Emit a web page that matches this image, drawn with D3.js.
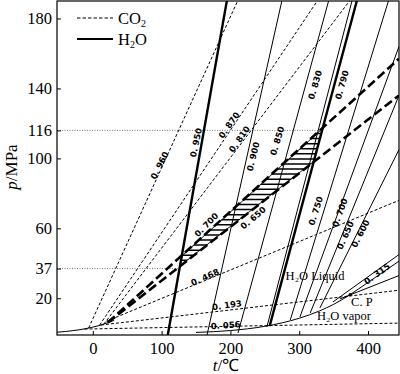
<!DOCTYPE html>
<html>
<head>
<meta charset="utf-8">
<script src="https://cdn.jsdelivr.net/npm/d3@7"></script>
<style>
  body { margin: 0; background: #fff; }
  svg text { font-family: "Liberation Serif", "Times New Roman", serif; fill: #000; }
  .rho { font-family: "DejaVu Sans", sans-serif; font-weight: bold; font-size: 8.5px; }
</style>
</head>
<body>
<svg class="svg"></svg>
<script>
// axes
const xTicks = [0, 100, 200, 300, 400];
const yTicks = [20, 37, 60, 100, 116, 140, 180];

// saturation curves (t in degC, p in MPa)
const co2Sat = [[-52, 0.6], [-40, 1.0], [-20, 1.97], [0, 3.49], [15, 5.09], [25, 6.43], [31, 7.38]];
const h2oSat = [[150, 0.48], [200, 1.55], [250, 3.97], [300, 8.58], [330, 12.85], [350, 16.53], [374, 22.06]];

// CO2 isochores: density, end points, label point, label angle
const co2Rho = ["0.960", "0.870", "0.810", "0.700", "0.650", "0.468", "0.193", "0.056"];
const co2Pts = [
  [[-6, 3], [211, 190.5]],
  [[10, 4.7], [327, 190.5]],
  [[16, 5.2], [374, 190.5]],
  [[22, 6.2], [445, 157]],
  [[22, 6.2], [445, 136]],
  [[20, 6.9], [445, 76]],
  [[12, 4.7], [445, 24.6]],
  [[-12, 2.4], [445, 5.8]]
];
const co2Lab = [[97, 96], [198, 119], [213, 111], [165, 62], [233, 66], [163, 32], [195, 16], [193, 4.6]];
const co2Ang = [-63, -55, -55, -45, -40, -24, -8, -4];

// H2O isochores (last two of the fan carry no label)
const h2oRho = ["0.950", "0.900", "0.850", "0.830", "0.790", "0.750", "0.700", "0.650", "0.600", "", "", "0.315"];
const h2oPts = [
  [[109, -1], [195, 190.5]],
  [[166, -1], [275, 190.5]],
  [[211, 0.1], [343, 190.5]],
  [[253, 3.6], [377, 190.5]],
  [[257, 4.1], [384, 190.5]],
  [[287, 7.6], [430, 190.5]],
  [[301, 9.3], [445, 164]],
  [[316, 11.6], [445, 136]],
  [[330, 14.4], [445, 105]],
  [[349, 17.9], [445, 45]],
  [[359, 19.6], [445, 33]],
  [[374, 22.06], [446, 41.5]]
];
const h2oLab = [[150, 109], [233, 101], [268, 110], [323, 142], [362, 142], [324, 70], [359, 69], [367, 56], [389, 57], [0, 0], [0, 0], [413, 34]];
const h2oAng = [-78, -76, -73, -74, -74, -72, -70, -66, -63, 0, 0, -36];
const thickH2o = ["0.950", "0.790"];
const thickCo2 = ["0.700", "0.650"];

// pressure range of the hatched field
const hatchTop = 116, hatchBottom = 37;

const notes = [
  { text: "H₂O Liquid", t: 323, p: 30.4 },
  { text: "C. P", t: 391, p: 15.8 },
  { text: "H₂O vapor", t: 365, p: 7.6 }
];

const W = 400, H = 374;
const svg = d3.select(".svg").attr("width", W).attr("height", H);

const x = d3.scaleLinear().domain([-52, 445]).range([57, 399]);
const y = d3.scaleLinear().domain([-1, 190]).range([335, 1]);

const line = d3.line().x(d => x(d[0])).y(d => y(d[1]));
const curve = d3.line().x(d => x(d[0])).y(d => y(d[1])).curve(d3.curveMonotoneX);

svg.append("clipPath").attr("id", "plot")
  .append("rect").attr("x", 57).attr("y", 1).attr("width", 342).attr("height", 334);

const g = svg.append("g").attr("clip-path", "url(#plot)");

// reference dotted lines
function hLine(p, t1) {
  g.append("line")
    .attr("x1", 57).attr("x2", x(t1))
    .attr("y1", y(p)).attr("y2", y(p))
    .attr("stroke", "#555").attr("stroke-width", 0.8)
    .attr("stroke-dasharray", "1,1.5");
}

function xAt(seg, p) {
  const [[t0, p0], [t1, p1]] = seg;
  return t0 + (p - p0) * (t1 - t0) / (p1 - p0);
}
function intersect(a, b) {
  const [[x1, y1], [x2, y2]] = a, [[x3, y3], [x4, y4]] = b;
  const d = (x1 - x2) * (y3 - y4) - (y1 - y2) * (x3 - x4);
  const u = ((x1 - x3) * (y3 - y4) - (y1 - y3) * (x3 - x4)) / d;
  return [x1 + u * (x2 - x1), y1 + u * (y2 - y1)];
}

const iso950 = h2oPts[h2oRho.indexOf("0.950")];
const iso790 = h2oPts[h2oRho.indexOf("0.790")];
const c700 = co2Pts[co2Rho.indexOf("0.700")];
const c650 = co2Pts[co2Rho.indexOf("0.650")];

hLine(hatchTop, xAt(iso790, hatchTop));
hLine(hatchBottom, xAt(iso950, hatchBottom));

// hatched band
const quad = [intersect(iso950, c650), intersect(iso950, c700), intersect(iso790, c700), intersect(iso790, c650)];
svg.append("clipPath").attr("id", "hatch")
  .append("path").attr("d", line(quad) + "Z");
const hg = g.append("g").attr("clip-path", "url(#hatch)");
d3.range(hatchBottom - 4, hatchTop + 6, 2.9).forEach(p => {
  hg.append("line").attr("x1", 57).attr("x2", 399)
    .attr("y1", y(p)).attr("y2", y(p))
    .attr("stroke", "#000").attr("stroke-width", 1.5);
});
hg.append("path").attr("d", line(quad) + "Z").attr("fill", "none").attr("stroke", "#000").attr("stroke-width", 1.5);

// saturation curves
g.append("path").attr("d", curve(co2Sat)).attr("fill", "none").attr("stroke", "#000").attr("stroke-width", 1);
g.append("path").attr("d", curve(h2oSat)).attr("fill", "none").attr("stroke", "#000").attr("stroke-width", 1);

// CO2 isochores
g.selectAll("path.co2")
  .data(co2Pts)
  .join("path")
  .attr("class", "co2")
  .attr("d", d => line(d))
  .attr("fill", "none")
  .attr("stroke", "#000")
  .attr("stroke-width", (d, i) => thickCo2.includes(co2Rho[i]) ? 2.6 : 1)
  .attr("stroke-dasharray", (d, i) => thickCo2.includes(co2Rho[i]) ? "9,4" : "3,2");

// H2O isochores
g.selectAll("path.h2o")
  .data(h2oPts)
  .join("path")
  .attr("class", "h2o")
  .attr("d", d => line(d))
  .attr("fill", "none")
  .attr("stroke", "#000")
  .attr("stroke-width", (d, i) => thickH2o.includes(h2oRho[i]) ? 2.4 : 1);

// critical point
g.append("circle").attr("cx", x(374)).attr("cy", y(22.06)).attr("r", 1.6).attr("fill", "#000");

// density labels
function rhoLabels(names, pos, ang) {
  const idx = d3.range(names.length).filter(i => names[i]);
  g.selectAll(null)
    .data(idx)
    .join("text")
    .attr("class", "rho")
    .attr("text-anchor", "middle")
    .attr("dy", "0.35em")
    .attr("transform", i => `translate(${x(pos[i][0])},${y(pos[i][1])}) rotate(${ang[i]})`)
    .text(i => names[i].replace(".", ". "));
}
rhoLabels(co2Rho, co2Lab, co2Ang);
rhoLabels(h2oRho, h2oLab, h2oAng);

// notes
g.selectAll("text.note")
  .data(notes)
  .join("text")
  .attr("class", "note")
  .attr("x", d => x(d.t))
  .attr("y", d => y(d.p))
  .attr("text-anchor", "middle")
  .attr("font-size", 12.5)
  .attr("fill", "#333")
  .text(d => d.text);

// frame
svg.append("rect").attr("x", 57).attr("y", 1).attr("width", 342).attr("height", 334)
  .attr("fill", "none").attr("stroke", "#000").attr("stroke-width", 1.2);

// axes
const xAxis = svg.append("g").attr("transform", "translate(0,335)")
  .call(d3.axisBottom(x).tickValues(xTicks).tickSize(-4).tickPadding(7));
const yAxis = svg.append("g").attr("transform", "translate(57,0)")
  .call(d3.axisLeft(y).tickValues(yTicks).tickSize(-4).tickPadding(5));
[xAxis, yAxis].forEach(a => {
  a.select(".domain").remove();
  a.selectAll(".tick line").attr("stroke", "#000");
  a.selectAll(".tick text").attr("font-size", 16.5).attr("font-family", "Liberation Serif");
});
xAxis.selectAll(".tick text").attr("dy", "0.72em");

// axis titles
const xt = svg.append("text").attr("x", 226).attr("y", 371).attr("text-anchor", "middle").attr("font-size", 17);
xt.append("tspan").attr("font-style", "italic").text("t");
xt.append("tspan").text("/℃");
const yt = svg.append("text").attr("transform", "translate(17,167) rotate(-90)").attr("text-anchor", "middle").attr("font-size", 17);
yt.append("tspan").attr("font-style", "italic").text("p");
yt.append("tspan").text("/MPa");

// legend
const legend = [{ pre: "CO", sub: "2", post: "", dash: "3.5,2" }, { pre: "H", sub: "2", post: "O", dash: null }];
legend.forEach((d, i) => {
  const ly = 18 + i * 21;
  svg.append("line").attr("x1", 77).attr("x2", 113).attr("y1", ly).attr("y2", ly)
    .attr("stroke", "#000").attr("stroke-width", d.dash ? 1.2 : 1.8)
    .attr("stroke-dasharray", d.dash);
  const t = svg.append("text").attr("x", 118).attr("y", ly + 6).attr("font-size", 16.5);
  t.append("tspan").text(d.pre);
  t.append("tspan").attr("font-size", 10).attr("dy", 3).text(d.sub);
  if (d.post) t.append("tspan").attr("dy", -3).text(d.post);
});
</script>
</body>
</html>
